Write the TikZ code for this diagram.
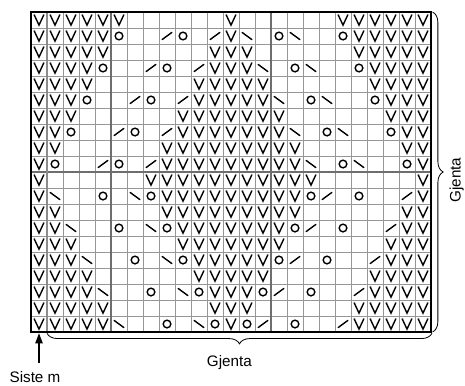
\documentclass[tikz,border=0pt]{standalone}
\usepackage{fontspec}
\setmainfont{Liberation Sans}
\usetikzlibrary{arrows.meta,decorations.pathreplacing}
\definecolor{gl}{RGB}{150,150,150}
\definecolor{gd}{RGB}{110,110,110}
\definecolor{ge}{RGB}{140,140,140}

\begin{document}
\begin{tikzpicture}[x=0.48cm, y=-0.48cm,
    sym/.style={line width=1.2pt, line cap=round, line join=miter},
    thin/.style={gl, line width=0.6pt},
    ten/.style={gd, line width=1.1pt},
    edge/.style={ge, line width=2.4pt},
    frame/.style={line width=1.6pt},
    brc/.style={decorate, decoration={brace, amplitude=#1}, line width=0.7pt},
    lbl/.style={font=\fontsize{13}{15}\selectfont, inner sep=0pt},
    arr/.style={-{Triangle[length=3mm, width=2.2mm]}, line width=0.9pt},
]
\useasboundingbox (-1.9375,-0.75) rectangle (27.125,23.3125);

% === GRID ===
\foreach \c in {1,...,24} \draw[thin] (\c,0) -- (\c,20);
\foreach \r in {1,...,19} \draw[thin] (0,\r) -- (25,\r);
\foreach \c in {5,15} \draw[ten] (\c,0) -- (\c,20);
\draw[ten] (0,10) -- (25,10);
\draw[edge] (1,0) -- (1,20);

% === STITCHES ===
% V
\foreach \r/\cols in {1/{1,2,3,4,5,6,13,20,21,22,23,24,25},
    2/{1,2,3,4,5,13,21,22,23,24,25},
    3/{1,2,3,4,5,12,13,14,21,22,23,24,25},
    4/{1,2,3,4,12,13,14,22,23,24,25},
    5/{1,2,3,4,11,12,13,14,15,22,23,24,25},
    6/{1,2,3,11,12,13,14,15,23,24,25},
    7/{1,2,3,10,11,12,13,14,15,16,23,24,25},
    8/{1,2,10,11,12,13,14,15,16,24,25},
    9/{1,2,9,10,11,12,13,14,15,16,17,24,25},
    10/{1,9,10,11,12,13,14,15,16,17,25},
    11/{1,8,9,10,11,12,13,14,15,16,17,18,25},
    12/{1,9,10,11,12,13,14,15,16,17,25},
    13/{1,2,9,10,11,12,13,14,15,16,17,24,25},
    14/{1,2,10,11,12,13,14,15,16,24,25},
    15/{1,2,3,10,11,12,13,14,15,16,23,24,25},
    16/{1,2,3,11,12,13,14,15,23,24,25},
    17/{1,2,3,4,11,12,13,14,15,22,23,24,25},
    18/{1,2,3,4,12,13,14,22,23,24,25},
    19/{1,2,3,4,5,12,13,14,21,22,23,24,25},
    20/{1,2,3,4,5,13,21,22,23,24,25}}
  \foreach \c in \cols
    \draw[sym] (\c-0.8,\r-0.82) -- (\c-0.5,\r-0.18) -- (\c-0.2,\r-0.82);

% O
\foreach \r/\cols in {2/{6,10,16,20}, 4/{5,9,17,21}, 6/{4,8,18,22},
    8/{3,7,19,23}, 10/{2,6,20,24}, 12/{5,8,18,21}, 14/{6,9,17,20},
    16/{7,10,16,19}, 18/{8,11,15,18}, 20/{9,12,14,17}}
  \foreach \c in \cols
    \draw[sym] (\c-0.5,\r-0.5) circle[radius=0.24];

% /
\foreach \r/\cols in {2/{9,12}, 4/{8,11}, 6/{7,10}, 8/{6,9}, 10/{5,8},
    12/{19,24}, 14/{18,23}, 16/{17,22}, 18/{16,21}, 20/{15,20}}
  \foreach \c in \cols
    \draw[sym] (\c-0.8,\r-0.28) -- (\c-0.2,\r-0.72);

% \
\foreach \r/\cols in {2/{14,17}, 4/{15,18}, 6/{16,19}, 8/{17,20}, 10/{18,21},
    12/{2,7}, 14/{3,8}, 16/{4,9}, 18/{5,10}, 20/{6,11}}
  \foreach \c in \cols
    \draw[sym] (\c-0.8,\r-0.72) -- (\c-0.2,\r-0.28);

\draw[frame] (0,0) rectangle (25,20);

% === REPEAT BRACES ===
\draw[brc=9pt] (25.06,20.08) -- (1,20.08);
\node[lbl] (reph) at (12.4,21.9) {Gjenta};
\draw[brc=9pt] (25.1,0) -- (25.1,20);
\node[lbl, rotate=90] (repv) at (26.6,10.5) {Gjenta};

% === LAST STITCH ===
\node[lbl] (last) at (0.25,22.8) {Siste m};
\coordinate (tail) at (0.5,21.95);
\coordinate (lastst) at (0.5,20.08);
\draw[arr] (tail) -- (lastst);

\end{tikzpicture}
\end{document}
